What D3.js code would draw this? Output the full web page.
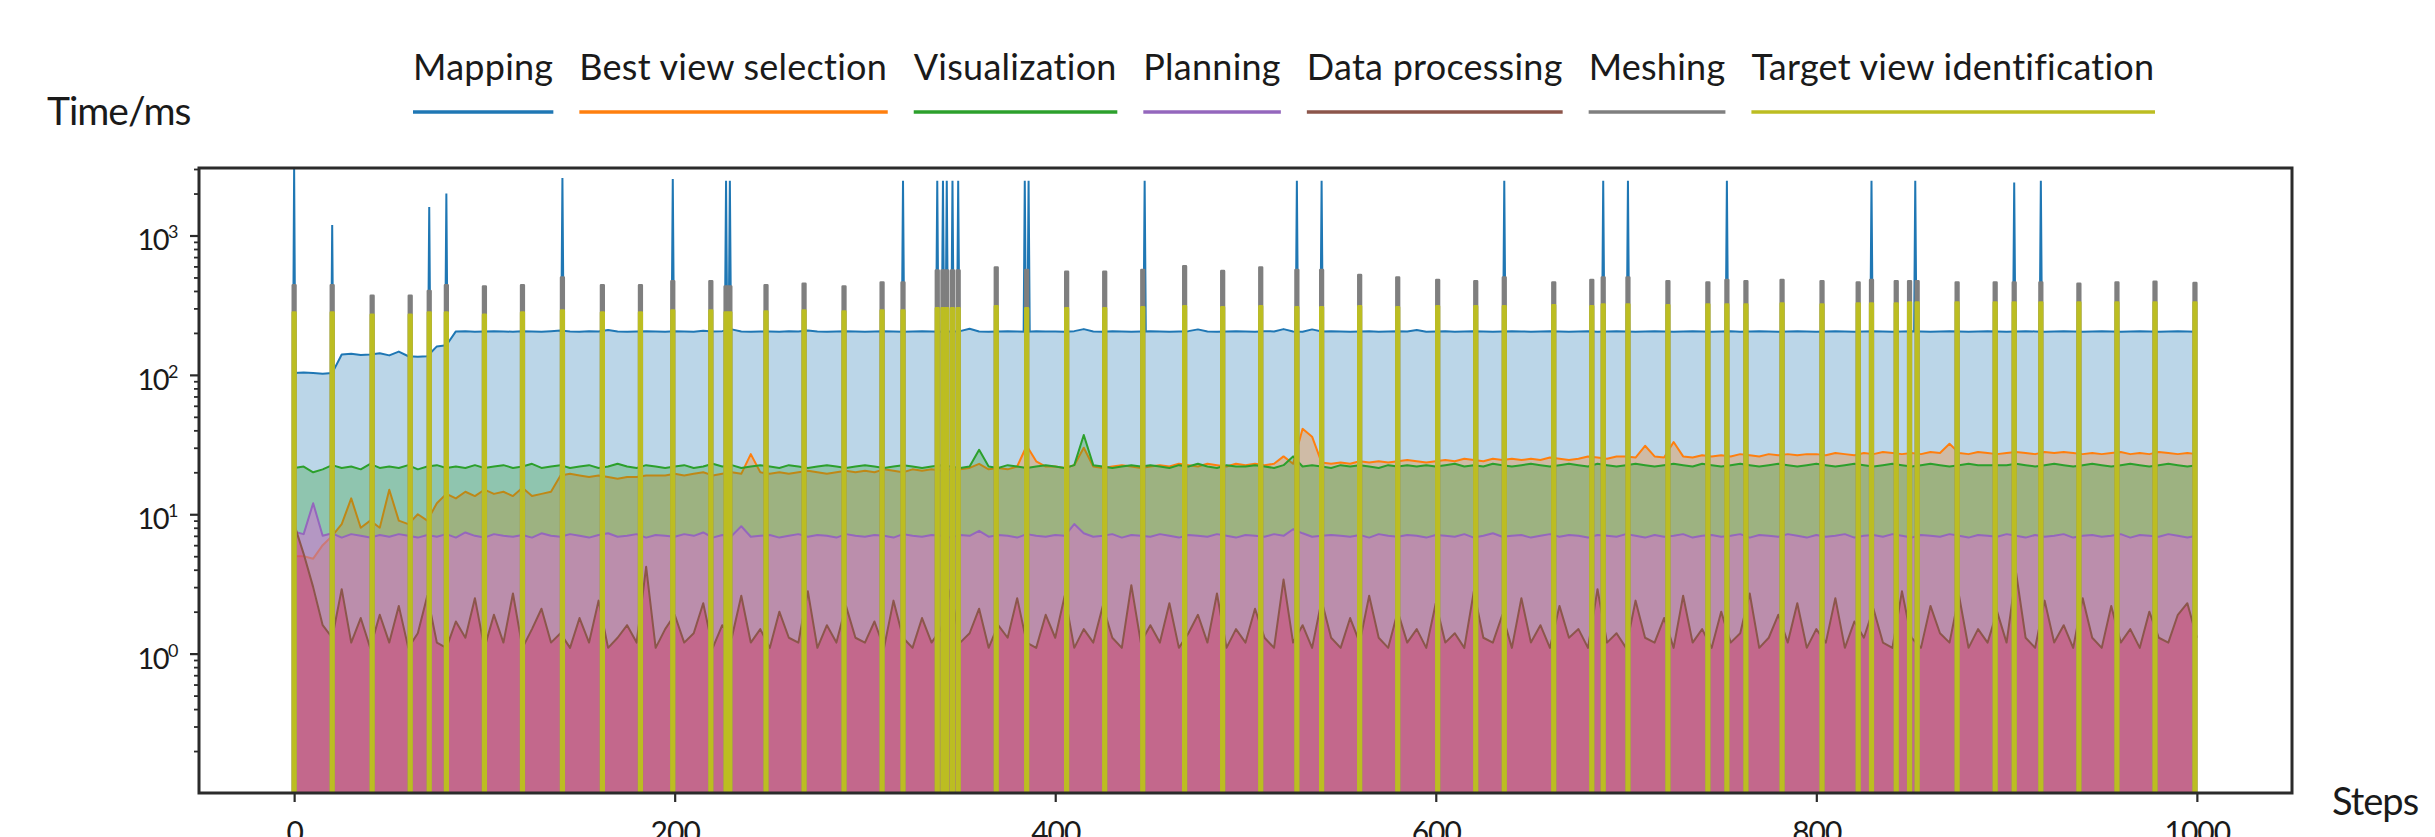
<!DOCTYPE html>
<html>
<head>
<meta charset="utf-8">
<script src="https://cdn.jsdelivr.net/npm/d3@7"></script>
<style>
  html, body { margin: 0; padding: 0; background: #fff; overflow: hidden; }
  svg { display: block; }
  text { font-family: Lato, "Open Sans", sans-serif; fill: #1a1a1a; }
</style>
</head>
<body>
<svg id="chart" width="2435" height="837"></svg>
<script>
// ---- series names and colours ----
const seriesNames = ["Mapping", "Best view selection", "Visualization", "Planning",
                     "Data processing", "Meshing", "Target view identification"];
const lineColors = ["#1f77b4", "#ff7f0e", "#2ca02c", "#9467bd", "#8c564b", "#7f7f7f", "#bcbd22"];
const fillColors = ["#1f77b4", "#ff7f0e", "#2ca02c", "#d969d7", "#d42250", "#7f7f7f", "#bcbd22"];
const fillOpacity = [0.3, 0.3, 0.3, 0.5, 0.35, 1, 1];

// ---- tick values ----
const xTickValues = [0, 200, 400, 600, 800, 1000];
const yMajorTicks = [1, 10, 100, 1000];

// ---- per-step timings (ms), sampled every 5 steps from step 0 to step 1000 ----
const sampleSteps = d3.range(0, 1001, 5);

const mappingTime = [
  103,104,103,102,103,140,142,139,140,143,
  138,147,136,135,136,160,163,205,206,204,
  205,206,205,204,206,205,204,206,208,205,
  204,206,205,210,205,204,205,206,205,204,
  206,205,204,207,205,206,212,205,204,205,
  205,204,206,205,208,205,204,205,206,205,
  204,205,206,205,204,205,206,205,204,205,
  206,214,205,204,205,206,205,204,206,205,
  205,204,206,213,205,204,206,205,204,205,
  206,205,204,205,206,212,205,204,205,206,
  205,204,206,205,213,205,204,212,205,206,
  205,204,205,206,204,205,206,205,210,204,
  205,206,204,205,206,205,204,205,206,205,
  204,205,206,205,204,205,206,204,205,206,
  205,204,205,206,205,204,205,206,205,204,
  205,206,204,205,206,205,204,205,206,205,
  204,205,206,205,204,205,206,205,204,205,
  206,205,204,205,206,205,204,205,206,205,
  204,205,206,205,204,205,206,205,204,205,
  206,205,204,205,206,205,204,205,206,205,
  204
];

const bestViewTime = [
  5,5,4.8,6,7,8.5,13,8,9,8,
  15,9,8.5,10,9,12,14,13,14.5,13.5,
  15,14,14.5,13.5,15.5,13.5,14,14.5,19,19.5,
  19,18.5,19,18.5,18,18.5,18.5,19,19,19,
  19.5,19,19.5,20,19,19.5,20,19.5,27,20,
  19.5,20,19.5,20,20.5,20,19.5,20,20.5,20,
  20.5,20,21,20.5,20,21,20.5,21,20.5,21,
  21,21.5,23,21,21.5,21,22,31,24,22,
  22,21.5,22.5,30,22,21.5,22,22.5,22,21.5,
  22,22.5,22,23,22.5,22,23,22.5,22,23,
  22.5,23,22.5,23,26,23,41,36,23.5,23,
  23.5,23,24,23.5,24,23.5,24,24.5,24,23.5,
  24,24.5,24,25,24.5,24,25,24.5,25,24.5,
  25,24.5,25.5,25,24.5,25,26,25.5,25,26,
  26,25.5,31,26,25.5,33,26,25.5,26.5,26,
  26.5,26,27,26.5,26,27,26.5,27,26.5,27,
  27,26.5,27.5,27,26.5,27.5,27,28,27.5,27,
  27.5,27,28,27.5,32,27.5,27,28,27.5,27,
  27.5,28,27.5,27,28,27.5,28,27.5,27,27.5,
  27,27.5,28,27,27.5,27,28,27.5,27,27.5,
  27
];

const visualizationTime = [
  21.5,22,20,21,22.5,21.5,22,21,23,21.5,
  22,21.5,22.5,21,22,22.5,21.5,22,21.5,22.5,
  21.5,22,22.5,21.5,22,23,21.5,22,22.5,21.5,
  22,22.5,21.5,22,23,22,21.5,22.5,22,21.5,
  22,22.5,21.5,22,23,22,22.5,21.5,22,22.5,
  22,21.5,22.5,22,21.5,22,22.5,22,21.5,22,
  22.5,22,21.5,22,22.5,22,21.5,22,22.5,22,
  21.5,22,29,22,21.5,22.5,22,21.5,22,22.5,
  22,21.5,22.5,37,22.5,22,21.5,22,22.5,22,
  22.5,22,21.5,22.5,22,23,22,21.5,22.5,22,
  22,22.5,22,21.5,22.5,26,22,22.5,22,21.5,
  22.5,22,22.5,22,21.5,22.5,22,22.5,22,22.5,
  22,22.5,23,22,22.5,22,23,22.5,22,22.5,
  23,22.5,22,22.5,23,22.5,22,23,22.5,22,
  22.5,23,22.5,22,22.5,23,22.5,22,23,22.5,
  22,22.5,23,22.5,22,22.5,23,22.5,22,22.5,
  23,22.5,22,22.5,23,22.5,22,22.5,23,22.5,
  22,22.5,23,22.5,22,22.5,23,22.5,22.5,22.5,
  22.5,23,22.5,22,22.5,23,22.5,22,22.5,23,
  22.5,22,22.5,23,22.5,22,22.5,23,22.5,22,
  22.5
];

const planningTime = [
  7.5,7.2,12,7,7.3,6.8,7.2,7,6.8,7.1,
  6.9,7.2,7,6.8,7.1,6.9,7.2,6.8,7.4,7,
  6.8,7.2,7,6.9,7.1,6.8,7.3,7,6.9,7.2,
  7,6.8,7.1,7.3,6.9,7,7.2,6.8,7.1,7,
  6.9,7.2,7,7.4,6.8,7.1,7,8.2,6.9,7,
  7.1,6.8,7,7.2,6.9,7.1,7,6.8,7.2,7,
  6.9,7.1,7,6.8,7.2,7,6.9,7.1,7,6.8,
  7.1,7,7.6,6.9,7.1,7,6.8,7.2,7,6.9,
  7.1,7,8.5,7.3,6.9,7,7.2,6.8,7.1,7,
  6.9,7.2,7,6.8,7.1,7,6.9,7.2,7,6.8,
  7.1,7,6.9,7.2,7,7.8,7.3,6.9,7,7.1,
  7,6.9,7.1,6.8,7.2,7,6.9,7.1,7,6.8,
  7.1,7,6.9,7.2,6.8,7,7.3,6.9,7,7.1,
  6.8,7,7.2,6.9,7.1,7,6.8,7.1,7,6.9,
  7.2,7,6.8,7.1,6.9,7,7.2,6.8,7,7.1,
  6.9,7,7.2,6.8,7.1,7,6.9,7.2,7,6.8,
  7.1,6.9,7,7.2,6.8,7,7.1,6.9,7.2,7,
  6.8,7.1,7,6.9,7.2,7,6.8,7.1,7,6.9,
  7.2,7,6.8,7.1,6.9,7,7.2,6.8,7,7.1,
  6.9,7,7.2,6.8,7.1,7,6.9,7.2,7,6.8,
  7
];

const dataProcessingTime = [
  8.5,5.2,3.0,1.6,1.3,2.9,1.2,1.8,1.1,1.9,
  1.2,2.2,1.1,1.4,2.6,1.2,1.1,1.7,1.3,2.5,
  1.1,1.9,1.2,2.7,1.1,1.5,2.1,1.2,1.4,1.1,
  1.8,1.2,2.4,1.1,1.3,1.6,1.2,4.2,1.1,1.5,
  1.9,1.2,1.4,2.3,1.1,1.6,1.3,2.6,1.2,1.5,
  1.1,2.0,1.3,1.2,2.8,1.1,1.6,1.2,2.2,1.3,
  1.2,1.7,1.1,2.4,1.3,1.1,1.8,1.2,1.5,2.9,
  1.2,1.4,2.1,1.1,1.6,1.3,2.5,1.2,1.1,1.9,
  1.3,2.6,1.1,1.5,1.2,2.2,1.3,1.1,3.1,1.2,
  1.6,1.2,2.3,1.1,1.4,1.9,1.2,2.7,1.1,1.5,
  1.2,2.1,1.3,1.1,3.4,1.2,1.6,1.1,2.4,1.3,
  1.1,1.8,1.2,2.6,1.3,1.1,2.0,1.2,1.5,1.1,
  2.3,1.2,1.4,1.1,2.8,1.3,1.2,1.9,1.1,2.5,
  1.2,1.6,1.1,2.2,1.3,1.5,1.1,2.9,1.2,1.4,
  1.1,2.4,1.3,1.2,1.8,1.1,2.6,1.2,1.5,1.1,
  2.0,1.2,1.4,2.7,1.1,1.3,1.9,1.2,2.3,1.1,
  1.5,1.2,2.5,1.1,1.7,1.3,2.1,1.2,1.1,2.8,
  1.3,1.1,2.2,1.4,1.2,2.6,1.1,1.5,1.2,2.0,
  1.2,3.8,1.3,1.1,2.4,1.2,1.6,1.1,2.5,1.3,
  1.1,2.2,1.2,1.5,1.1,2.0,1.3,1.2,1.9,2.3,
  1.3
];

// ---- occasional long steps: mapping peaks (ms) ----
const mappingPeakSteps  = [0, 20, 71, 80, 141, 199, 227, 229, 320, 338, 341, 343, 346, 349,
                           384, 386, 447, 527, 540, 636, 688, 701, 753, 829, 852, 904, 918];
const mappingPeakValues = [3200, 1190, 1600, 2000, 2580, 2540, 2470, 2470, 2470, 2470, 2470, 2470, 2470, 2470,
                           2470, 2470, 2470, 2470, 2470, 2470, 2470, 2470, 2470, 2470, 2470, 2400, 2470];

// ---- steps where meshing and target view identification run ----
const reconStepList = [0, 20, 41, 61, 71, 80, 100, 120, 141, 162, 182, 199, 219, 227, 229,
                       248, 268, 289, 309, 320, 338, 341, 343, 346, 349, 369, 385, 406, 426, 446,
                       468, 488, 508, 527, 540, 560, 580, 601, 621, 636, 662, 682, 688, 701, 722,
                       743, 753, 763, 782, 803, 822, 829, 842, 849, 853, 874, 894, 904, 918, 938,
                       958, 978, 999];
const meshingTime = [440, 440, 370, 370, 400, 440, 430, 440, 500, 440, 440, 470, 470, 430, 430,
                     440, 450, 430, 460, 460, 560, 560, 560, 560, 560, 590, 565, 550, 550, 565,
                     600, 555, 590, 565, 565, 520, 500, 480, 470, 500, 460, 480, 500, 500, 470,
                     460, 480, 470, 480, 470, 460, 480, 470, 470, 470, 460, 460, 460, 460, 450,
                     460, 465, 455];
const targetViewTime = [280, 280, 270, 270, 280, 280, 270, 280, 290, 280, 280, 290, 290, 280, 280,
                        285, 290, 285, 290, 290, 300, 300, 300, 300, 300, 310, 300, 300, 300, 305,
                        310, 305, 310, 305, 305, 310, 305, 310, 310, 310, 315, 310, 320, 320, 315,
                        320, 320, 320, 325, 320, 325, 325, 325, 330, 330, 330, 330, 330, 330, 330,
                        330, 330, 330];

// ---- layout ----
const plotL = 199, plotR = 2292, plotT = 168, plotB = 793;
const svg = d3.select("#chart");

const x = d3.scaleLinear().domain([-50, 1050]).range([plotL, plotR]);
const y = d3.scaleLog().domain([0.1, 3050]).range([plotB, plotT]).clamp(true);

svg.append("defs").append("clipPath").attr("id", "plotClip")
  .append("rect").attr("x", plotL).attr("y", plotT)
  .attr("width", plotR - plotL).attr("height", plotB - plotT);

const plot = svg.append("g").attr("clip-path", "url(#plotClip)");

const baseSeries = [mappingTime, bestViewTime, visualizationTime, planningTime, dataProcessingTime];

const area = d3.area()
  .x(d => x(d[0]))
  .y0(plotB + 5)
  .y1(d => y(d[1]));
const line = d3.line()
  .x(d => x(d[0]))
  .y(d => y(d[1]));

function nearestSample(values, step) {
  return values[Math.round(step / 5)];
}

baseSeries.forEach((vals, i) => {
  const pts = sampleSteps.map((s, k) => [s, vals[k]]);
  plot.append("path").datum(pts)
    .attr("d", area)
    .attr("fill", fillColors[i]).attr("fill-opacity", fillOpacity[i]);
  plot.append("path").datum(pts)
    .attr("d", line)
    .attr("fill", "none").attr("stroke", lineColors[i])
    .attr("stroke-width", 2).attr("stroke-linejoin", "round");

  if (i === 0) {
    // short mapping peaks
    mappingPeakSteps.forEach((s, k) => {
      const base = nearestSample(mappingTime, s);
      const pk = [[s - 0.6, base], [s, mappingPeakValues[k]], [s + 0.6, base]];
      plot.append("path").datum(pk)
        .attr("d", line)
        .attr("fill", fillColors[0]).attr("fill-opacity", 0.6)
        .attr("stroke", lineColors[0]).attr("stroke-width", 2);
    });
  }
});

// meshing and target view identification: narrow bars from the floor
function drawBars(values, color) {
  const barLine = d3.line().x(d => x(d[0])).y(d => d[1] <= 0.1 ? plotB + 5 : y(d[1]));
  reconStepList.forEach((s, k) => {
    const v = values[k];
    const pts = [[s - 0.7, 0.1], [s - 0.7, v], [s + 0.7, v], [s + 0.7, 0.1]];
    plot.append("path").datum(pts)
      .attr("d", barLine)
      .attr("fill", color)
      .attr("stroke", color).attr("stroke-width", 2.6).attr("stroke-linejoin", "round");
  });
}
drawBars(meshingTime, lineColors[5]);
drawBars(targetViewTime, lineColors[6]);

// ---- axes ----
const axisColor = "#2b2b2b";
const axes = svg.append("g");

const yMinor = [];
[0.1, 1, 10, 100, 1000].forEach(d => { for (let m = 2; m <= 9; m++) { const v = d * m; if (v <= 3050) yMinor.push(v); } });

const yAxisMajor = d3.axisLeft(y).tickValues(yMajorTicks).tickSize(9).tickFormat("");
const yAxisMinor = d3.axisLeft(y).tickValues(yMinor).tickSize(5).tickFormat("");
axes.append("g").attr("transform", `translate(${plotL},0)`).call(yAxisMajor)
  .call(g => g.select(".domain").remove())
  .call(g => g.selectAll("line").attr("stroke", axisColor).attr("stroke-width", 2.2));
axes.append("g").attr("transform", `translate(${plotL},0)`).call(yAxisMinor)
  .call(g => g.select(".domain").remove())
  .call(g => g.selectAll("line").attr("stroke", axisColor).attr("stroke-width", 1.8));

const yLab = axes.append("g");
yMajorTicks.forEach(v => {
  const t = yLab.append("text")
    .attr("x", 177).attr("y", y(v) + 15)
    .attr("text-anchor", "end")
    .style("font-size", "29px").style("letter-spacing", "-1.5px");
  t.append("tspan").text("10");
  t.append("tspan").attr("dy", -12).style("font-size", "18px").text(String(Math.round(Math.log10(v))));
});

const xAxis = d3.axisBottom(x).tickValues(xTickValues).tickSize(9).tickPadding(20)
  .tickFormat(d3.format("d"));
axes.append("g").attr("transform", `translate(0,${plotB})`).call(xAxis)
  .call(g => g.select(".domain").remove())
  .call(g => g.selectAll("line").attr("stroke", axisColor).attr("stroke-width", 2.2))
  .call(g => g.selectAll("text").attr("fill", "#1a1a1a")
    .style("font-size", "30px").style("font-family", "Lato, sans-serif").style("letter-spacing", "-1px"));

axes.append("rect")
  .attr("x", plotL).attr("y", plotT)
  .attr("width", plotR - plotL).attr("height", plotB - plotT)
  .attr("fill", "none").attr("stroke", axisColor).attr("stroke-width", 3);

// axis titles
svg.append("text").attr("x", 47).attr("y", 125)
  .style("font-size", "39px").style("letter-spacing", "-1px").text("Time/ms");
svg.append("text").attr("x", 2332).attr("y", 815)
  .style("font-size", "38px").style("letter-spacing", "-1px").text("Steps");

// ---- legend: label above a short colour line ----
const legendStart = 413, legendEnd = 2155, legendGap = 26, legendTextY = 80, legendLineY = 112;
const leg = svg.append("g");
const labels = seriesNames.map(n => leg.append("text").style("font-size", "36px").text(n));
const natural = labels.map(t => t.node().getComputedTextLength());
const chars = seriesNames.reduce((a, n) => a + n.length, 0);
const avail = legendEnd - legendStart - legendGap * (seriesNames.length - 1);
const ls = (avail - d3.sum(natural)) / chars;
let cx = legendStart;
labels.forEach((t, i) => {
  const w = natural[i] + ls * seriesNames[i].length;
  t.attr("x", cx).attr("y", legendTextY).style("letter-spacing", ls + "px");
  leg.append("line")
    .attr("x1", cx).attr("x2", cx + w)
    .attr("y1", legendLineY).attr("y2", legendLineY)
    .attr("stroke", lineColors[i]).attr("stroke-width", 3.5);
  cx += w + legendGap;
});
</script>
</body>
</html>
